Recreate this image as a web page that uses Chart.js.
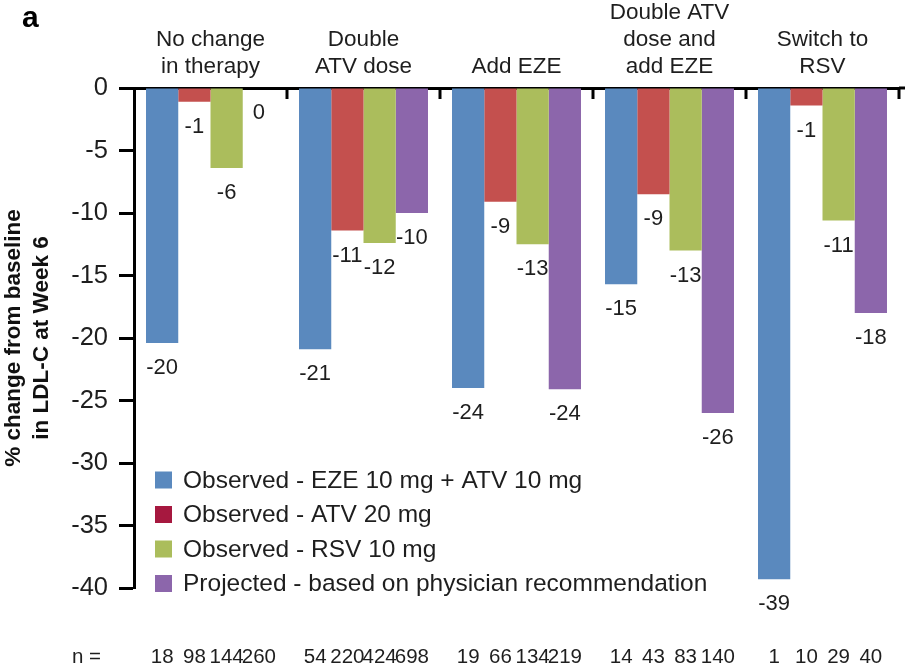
<!DOCTYPE html>
<html>
<head>
<meta charset="utf-8">
<script src="https://cdn.jsdelivr.net/npm/chart.js@4.4.1/dist/chart.umd.min.js"></script>
<style>
  html, body { margin: 0; padding: 0; background: #fff; }
  #wrap { width: 905px; height: 667px; }
</style>
</head>
<body>
<div id="wrap"><canvas id="ldlChart" width="905" height="667"></canvas></div>
<script>
// data
const groups = [
  ['No change', 'in therapy'],
  ['Double', 'ATV dose'],
  ['Add EZE'],
  ['Double ATV', 'dose and', 'add EZE'],
  ['Switch to', 'RSV'],
];
const seriesNames = [
  'Observed - EZE 10 mg + ATV 10 mg',
  'Observed - ATV 20 mg',
  'Observed - RSV 10 mg',
  'Projected - based on physician recommendation',
];
const eze10Atv10 = [-20.4, -20.9, -24.0, -15.7, -39.3];
const atv20 = [-1.1, -11.4, -9.1, -8.5, -1.4];
const rsv10 = [-6.4, -12.4, -12.5, -13.0, -10.6];
const projected = [0, -10.0, -24.1, -26.0, -18.0];

// printed value labels (rounded in the source)
const printedEze10Atv10 = [-20, -21, -24, -15, -39];
const printedAtv20 = [-1, -11, -9, -9, -1];
const printedRsv10 = [-6, -12, -13, -13, -11];
const printedProjected = [0, -10, -24, -26, -18];

// patient counts
const nEze10Atv10 = [18, 54, 19, 14, 1];
const nAtv20 = [98, 220, 66, 43, 10];
const nRsv10 = [144, 424, 134, 83, 29];
const nProjected = [260, 698, 219, 140, 40];

const yTicks = { min: -40, max: 0, step: 5 };

const barColors = ['#5a89be', '#c4504e', '#abbd5c', '#8c66ab'];
const legendColors = ['#5a89be', '#a6183f', '#abbd5c', '#8c66ab'];
const FONT = "'Liberation Sans', Arial, Helvetica, sans-serif";

const printed = [printedEze10Atv10, printedAtv20, printedRsv10, printedProjected];
const counts = [nEze10Atv10, nAtv20, nRsv10, nProjected];

const extras = {
  id: 'extras',
  afterDatasetsDraw(chart) {
    const ctx = chart.ctx;
    const area = chart.chartArea;
    const xs = chart.scales.x;
    ctx.save();

    // value labels under each bar
    ctx.fillStyle = '#1e1e1e';
    ctx.font = '22px ' + FONT;
    ctx.textAlign = 'center';
    ctx.textBaseline = 'middle';
    chart.data.datasets.forEach((ds, i) => {
      const meta = chart.getDatasetMeta(i);
      meta.data.forEach((bar, j) => {
        ctx.fillText(String(printed[i][j]), bar.x, bar.y + 25);
      });
    });

    // n = row
    ctx.font = '20.5px ' + FONT;
    chart.data.datasets.forEach((ds, i) => {
      const meta = chart.getDatasetMeta(i);
      meta.data.forEach((bar, j) => {
        ctx.fillText(String(counts[i][j]), bar.x, 657);
      });
    });
    ctx.textAlign = 'left';
    ctx.fillText('n =', 72, 657);

    // group boundary ticks on the top axis
    ctx.strokeStyle = '#000';
    ctx.lineWidth = 3;
    const n = groups.length;
    for (let i = 1; i <= n; i++) {
      const x = xs.left + i * (xs.right - xs.left) / n;
      ctx.beginPath();
      ctx.moveTo(x, area.top);
      ctx.lineTo(x, area.top + 11);
      ctx.stroke();
    }
    // extend the top axis a little past the last group
    ctx.beginPath();
    ctx.moveTo(area.right, area.top);
    ctx.lineTo(905, area.top);
    ctx.stroke();

    // legend
    ctx.font = '24.5px ' + FONT;
    ctx.textBaseline = 'middle';
    seriesNames.forEach((name, i) => {
      const cy = 480 + i * 34.5;
      ctx.fillStyle = legendColors[i];
      ctx.fillRect(155, cy - 8.5, 17, 17);
      ctx.fillStyle = '#1e1e1e';
      ctx.fillText(name, 183, cy + 1);
    });

    // y title
    ctx.save();
    ctx.translate(0, (area.top + area.bottom) / 2);
    ctx.rotate(-Math.PI / 2);
    ctx.font = 'bold 22.5px ' + FONT;
    ctx.textAlign = 'center';
    ctx.fillStyle = '#111';
    ctx.fillText('% change from baseline', 0, 14);
    ctx.fillText('in LDL-C at Week 6', 0, 42);
    ctx.restore();

    // panel letter
    ctx.font = 'bold 30px ' + FONT;
    ctx.fillStyle = '#000';
    ctx.textAlign = 'left';
    ctx.textBaseline = 'alphabetic';
    ctx.fillText('a', 22, 27);

    ctx.restore();
  }
};

const datasets = [eze10Atv10, atv20, rsv10, projected].map((vals, i) => ({
  label: seriesNames[i],
  data: vals,
  backgroundColor: barColors[i],
  borderWidth: 0,
  categoryPercentage: 0.843,
  barPercentage: 1.0,
}));

new Chart(document.getElementById('ldlChart').getContext('2d'), {
  type: 'bar',
  data: { labels: groups, datasets: datasets },
  options: {
    responsive: false,
    animation: false,
    layout: { padding: { left: 0, right: 6, top: 0, bottom: 79 } },
    plugins: {
      legend: { display: false },
      tooltip: { enabled: false },
    },
    scales: {
      x: {
        position: 'top',
        afterFit: (s) => { s.height = 88; },
        border: { display: true, color: '#000', width: 3 },
        grid: { display: false, drawTicks: false },
        ticks: {
          color: '#1e1e1e',
          font: { family: FONT, size: 22.5, lineHeight: 1.2 },
          padding: 8,
          maxRotation: 0,
          autoSkip: false,
        },
      },
      y: {
        min: yTicks.min,
        max: yTicks.max,
        afterFit: (s) => { s.width = 134; },
        border: { display: true, color: '#000', width: 3 },
        grid: {
          drawOnChartArea: false,
          drawTicks: true,
          tickLength: 15,
          tickWidth: 3,
          tickColor: '#000',
        },
        ticks: {
          stepSize: yTicks.step,
          color: '#1e1e1e',
          font: { family: FONT, size: 25.5 },
          padding: 11,
        },
      },
    },
  },
  plugins: [extras],
});
</script>
</body>
</html>
